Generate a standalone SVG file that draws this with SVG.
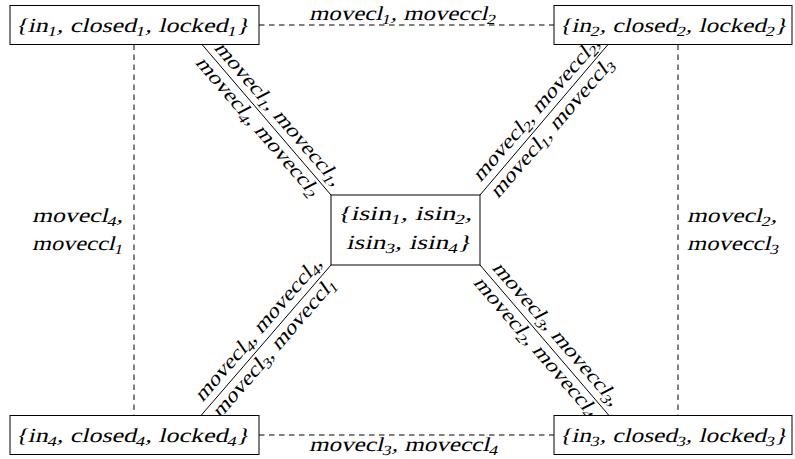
<svg xmlns="http://www.w3.org/2000/svg" width="795" height="459" viewBox="0 0 795 459">
<style>
.box{fill:#fff;stroke:#000;stroke-width:1}
.ln{fill:none;stroke:#000;stroke-width:1}
.ds{fill:none;stroke:#000;stroke-width:1;stroke-dasharray:5.5 4.5}
.m{font-family:"Liberation Serif",serif;font-size:20px;fill:#000}
.s{font-size:14px}
.c{text-anchor:middle}
</style>
<rect width="795" height="459" fill="#fff"/>
<g id="connectors">
<line class="ds" x1="259" y1="25" x2="554" y2="25"/>
<line class="ds" x1="259" y1="435" x2="554" y2="435"/>
<line class="ds" x1="134" y1="44.5" x2="134" y2="415.5"/>
<line class="ds" x1="678" y1="44.5" x2="678" y2="415.5"/>
<line class="ln" x1="202" y1="44.5" x2="331" y2="195"/>
<line class="ln" x1="480" y1="195" x2="608" y2="44.5"/>
<line class="ln" x1="201" y1="415.5" x2="331" y2="265"/>
<line class="ln" x1="480" y1="265" x2="609" y2="415.5"/>
<text class="m" transform="translate(309,20) skewX(-14)" textLength="187" lengthAdjust="spacingAndGlyphs">movecl<tspan class="s" dy="4">1</tspan><tspan dy="-4">, </tspan>moveccl<tspan class="s" dy="4">2</tspan></text>
<text class="m" transform="translate(309,451) skewX(-14)" textLength="189" lengthAdjust="spacingAndGlyphs">movecl<tspan class="s" dy="4">3</tspan><tspan dy="-4">, </tspan>moveccl<tspan class="s" dy="4">4</tspan></text>
<text class="m" transform="translate(32,222) skewX(-14)" textLength="91" lengthAdjust="spacingAndGlyphs">movecl<tspan class="s" dy="4">4</tspan><tspan dy="-4">,</tspan></text>
<text class="m" transform="translate(32,250) skewX(-14)" textLength="91" lengthAdjust="spacingAndGlyphs">moveccl<tspan class="s" dy="4">1</tspan></text>
<text class="m" transform="translate(687,222) skewX(-14)" textLength="90" lengthAdjust="spacingAndGlyphs">movecl<tspan class="s" dy="4">2</tspan><tspan dy="-4">,</tspan></text>
<text class="m" transform="translate(687,250) skewX(-14)" textLength="92" lengthAdjust="spacingAndGlyphs">moveccl<tspan class="s" dy="4">3</tspan></text>
<g transform="translate(266.5,120) rotate(49.1)">
<text class="m c" transform="translate(3,-7) skewX(-14)" textLength="184" lengthAdjust="spacingAndGlyphs">movecl<tspan class="s" dy="4">1</tspan><tspan dy="-4">, </tspan>moveccl<tspan class="s" dy="4">1</tspan><tspan dy="-4">,</tspan></text>
<text class="m c" transform="translate(-1,17) skewX(-14)" textLength="178" lengthAdjust="spacingAndGlyphs">movecl<tspan class="s" dy="4">4</tspan><tspan dy="-4">, </tspan>moveccl<tspan class="s" dy="4">2</tspan></text>
</g>
<g transform="translate(544,120) rotate(-49.1)">
<text class="m c" transform="translate(3,-7) skewX(-14)" textLength="184" lengthAdjust="spacingAndGlyphs">movecl<tspan class="s" dy="4">2</tspan><tspan dy="-4">, </tspan>moveccl<tspan class="s" dy="4">2</tspan><tspan dy="-4">,</tspan></text>
<text class="m c" transform="translate(-1,17) skewX(-14)" textLength="178" lengthAdjust="spacingAndGlyphs">movecl<tspan class="s" dy="4">1</tspan><tspan dy="-4">, </tspan>moveccl<tspan class="s" dy="4">3</tspan></text>
</g>
<g transform="translate(266,340) rotate(-49.1)">
<text class="m c" transform="translate(3,-7) skewX(-14)" textLength="184" lengthAdjust="spacingAndGlyphs">movecl<tspan class="s" dy="4">4</tspan><tspan dy="-4">, </tspan>moveccl<tspan class="s" dy="4">4</tspan><tspan dy="-4">,</tspan></text>
<text class="m c" transform="translate(-1,17) skewX(-14)" textLength="178" lengthAdjust="spacingAndGlyphs">movecl<tspan class="s" dy="4">3</tspan><tspan dy="-4">, </tspan>moveccl<tspan class="s" dy="4">1</tspan></text>
</g>
<g transform="translate(544.5,340) rotate(49.1)">
<text class="m c" transform="translate(3,-7) skewX(-14)" textLength="184" lengthAdjust="spacingAndGlyphs">movecl<tspan class="s" dy="4">3</tspan><tspan dy="-4">, </tspan>moveccl<tspan class="s" dy="4">3</tspan><tspan dy="-4">,</tspan></text>
<text class="m c" transform="translate(-1,17) skewX(-14)" textLength="178" lengthAdjust="spacingAndGlyphs">movecl<tspan class="s" dy="4">2</tspan><tspan dy="-4">, </tspan>moveccl<tspan class="s" dy="4">4</tspan></text>
</g>
</g>
<g id="n1">
<rect class="box" x="10" y="5.5" width="249" height="39"/>
<text class="m" transform="translate(15,32) skewX(-14)" textLength="234" lengthAdjust="spacingAndGlyphs">{in<tspan class="s" dy="4">1</tspan><tspan dy="-4">, </tspan>closed<tspan class="s" dy="4">1</tspan><tspan dy="-4">, </tspan>locked<tspan class="s" dy="4">1</tspan><tspan dy="-4">}</tspan></text>
</g>
<g id="n2">
<rect class="box" x="554" y="5.5" width="238" height="39"/>
<text class="m" transform="translate(559,32) skewX(-14)" textLength="228" lengthAdjust="spacingAndGlyphs">{in<tspan class="s" dy="4">2</tspan><tspan dy="-4">, </tspan>closed<tspan class="s" dy="4">2</tspan><tspan dy="-4">, </tspan>locked<tspan class="s" dy="4">2</tspan><tspan dy="-4">}</tspan></text>
</g>
<g id="n4">
<rect class="box" x="10" y="415.5" width="249" height="39"/>
<text class="m" transform="translate(15,442) skewX(-14)" textLength="234" lengthAdjust="spacingAndGlyphs">{in<tspan class="s" dy="4">4</tspan><tspan dy="-4">, </tspan>closed<tspan class="s" dy="4">4</tspan><tspan dy="-4">, </tspan>locked<tspan class="s" dy="4">4</tspan><tspan dy="-4">}</tspan></text>
</g>
<g id="n3">
<rect class="box" x="554" y="415.5" width="238" height="39"/>
<text class="m" transform="translate(559,442) skewX(-14)" textLength="228" lengthAdjust="spacingAndGlyphs">{in<tspan class="s" dy="4">3</tspan><tspan dy="-4">, </tspan>closed<tspan class="s" dy="4">3</tspan><tspan dy="-4">, </tspan>locked<tspan class="s" dy="4">3</tspan><tspan dy="-4">}</tspan></text>
</g>
<g id="center">
<rect class="box" x="331" y="195" width="149" height="70"/>
<text class="m" transform="translate(337,220) skewX(-14)" textLength="135" lengthAdjust="spacingAndGlyphs">{isin<tspan class="s" dy="4">1</tspan><tspan dy="-4">, </tspan>isin<tspan class="s" dy="4">2</tspan><tspan dy="-4">,</tspan></text>
<text class="m" transform="translate(346,249) skewX(-14)" textLength="125" lengthAdjust="spacingAndGlyphs">isin<tspan class="s" dy="4">3</tspan><tspan dy="-4">, </tspan>isin<tspan class="s" dy="4">4</tspan><tspan dy="-4">}</tspan></text>
</g>
</svg>
